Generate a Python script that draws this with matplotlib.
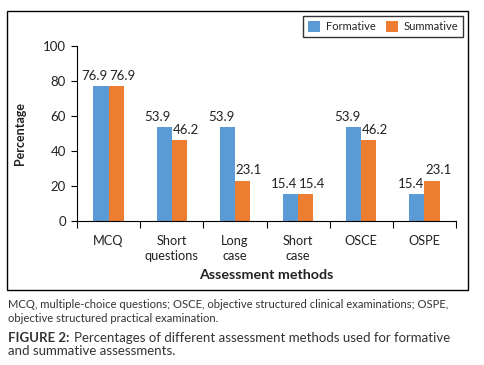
import matplotlib
matplotlib.use("Agg")
import matplotlib.pyplot as plt
from matplotlib.patches import Rectangle
import numpy as np

plt.rcParams['font.family'] = ['Lato', 'DejaVu Sans']

categories = ["MCQ", "Short\nquestions", "Long\ncase", "Short\ncase", "OSCE", "OSPE"]
formative = [76.9, 53.9, 53.9, 15.4, 53.9, 15.4]
summative = [76.9, 46.2, 23.1, 15.4, 46.2, 23.1]

blue = "#5B9BD5"
orange = "#ED7D31"
txt = "#222222"

fig = plt.figure(figsize=(4.84, 3.65), dpi=100)
ax = fig.add_axes([77/484, 1-221/365, (456-77)/484, (221-46)/365])

x = np.arange(len(categories))
w = 0.24
b1 = ax.bar(x - w/2, formative, w, color=blue, label="Formative")
b2 = ax.bar(x + w/2, summative, w, color=orange, label="Summative")

# labels pushed a little outwards so neighbours don't collide
for rects, vals, dx in ((b1, formative, -4.5), (b2, summative, 4.5)):
    for r, v in zip(rects, vals):
        ax.annotate("{:.1f}".format(v), (r.get_x() + r.get_width()/2, v),
                    xytext=(dx, 3), textcoords="offset points",
                    ha="center", va="bottom", fontsize=9.5, color=txt)

ax.set_xlim(-0.5, len(categories) - 0.5)
ax.set_ylim(0, 100)
ax.set_yticks([0, 20, 40, 60, 80, 100])
ax.set_xticks(x)
ax.set_xticklabels(categories, fontsize=9.2, color=txt, linespacing=1.35)
ax.set_xticks(np.arange(len(categories) + 1) - 0.5, minor=True)
ax.tick_params(axis="x", which="major", length=0, pad=10)
ax.tick_params(axis="x", which="minor", length=5, width=0.8, direction="out")
ax.tick_params(axis="y", length=4, width=0.8, direction="out", labelsize=9.5, labelcolor=txt, pad=4)

for s in ("top", "right"):
    ax.spines[s].set_visible(False)
ax.spines["left"].set_linewidth(0.8)
ax.spines["bottom"].set_linewidth(0.8)

ax.set_ylabel("Percentage", fontsize=9, fontweight="bold", color=txt, labelpad=12)
ax.set_xlabel("Assessment methods", fontsize=10.3, fontweight="bold", color=txt, labelpad=5)

leg = fig.legend(loc="upper right", bbox_to_anchor=(463/484, 1-16/365), ncol=2,
                 fontsize=8, frameon=True, fancybox=False, edgecolor="black",
                 handlelength=1.1, handleheight=1.1, columnspacing=0.9, borderpad=0.45,
                 handletextpad=0.5, borderaxespad=0)
leg.get_frame().set_linewidth(1.0)
for t in leg.get_texts():
    t.set_color(txt)

# outer frame
fig.patches.append(Rectangle((7/484, 1-290/365), (468-7)/484, (290-11)/365,
                             transform=fig.transFigure, fill=False, edgecolor="black", lw=1.0))

cap = "#333333"
fig.text(8/484, 1-305/365, "MCQ, multiple-choice questions; OSCE, objective structured clinical examinations; OSPE,",
         fontsize=8.1, color=cap, va="center")
fig.text(8/484, 1-318/365, "objective structured practical examination.",
         fontsize=8.1, color=cap, va="center")
t1 = fig.text(8/484, 1-338/365, "FIGURE 2:", fontsize=9.5, color=cap, va="center",
              fontweight="bold")
ax.annotate("Percentages of different assessment methods used for formative",
            xy=(1, 0.5), xycoords=t1, xytext=(3.5, 0), textcoords="offset points",
            fontsize=9.5, color=cap, va="center", annotation_clip=False)
fig.text(8/484, 1-351/365, "and summative assessments.",
         fontsize=9.5, color=cap, va="center")

fig.savefig("out.png", dpi=100)
